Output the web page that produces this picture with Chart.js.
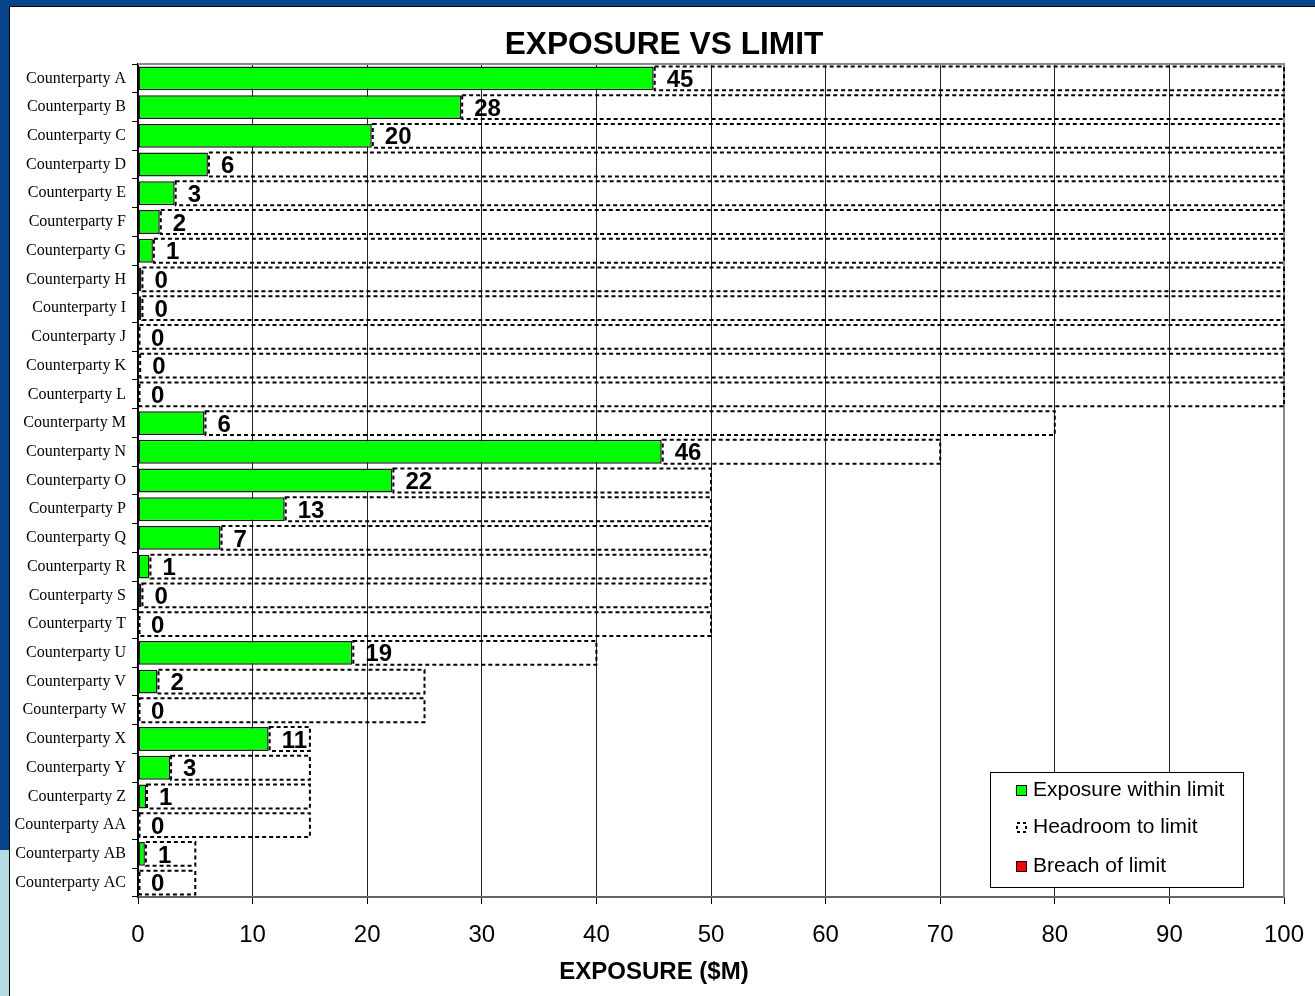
<!DOCTYPE html>
<html>
<head>
<meta charset="utf-8">
<script src="https://cdn.jsdelivr.net/npm/chart.js@4/dist/chart.umd.min.js"></script>
<style>
  html, body { margin: 0; padding: 0; width: 1315px; height: 996px; overflow: hidden; background: #07458a; }
  #lower { position: absolute; left: 0; top: 850px; width: 9px; height: 146px; background: #b4dbe2; }
  #panel { position: absolute; left: 9px; top: 6px; width: 1306px; height: 990px; background: #fff;
           border-left: 1px solid #000; border-top: 1px solid #000; box-sizing: border-box; }
  #wrap { position: absolute; left: 0; top: 0; width: 1305px; height: 989px; }
</style>
</head>
<body>
<div id="lower"></div>
<div id="panel"><div id="wrap"><canvas id="chart"></canvas></div></div>
<script>
const counterparties = ['A','B','C','D','E','F','G','H','I','J','K','L','M','N','O','P','Q','R','S','T',
                        'U','V','W','X','Y','Z','AA','AB','AC'].map(s => 'Counterparty ' + s);
const exposure = [45, 28.2, 20.4, 6.1, 3.2, 1.9, 1.3, 0.3, 0.3, 0, 0.1, 0, 5.8, 45.7, 22.2, 12.8, 7.2, 1.0, 0.3, 0,
                  18.7, 1.7, 0, 11.4, 2.8, 0.7, 0, 0.6, 0];
const limits = [100, 100, 100, 100, 100, 100, 100, 100, 100, 100, 100, 100, 80, 70, 50, 50, 50, 50, 50, 50,
                40, 25, 25, 15, 15, 15, 15, 5, 5];
const breach = [0, 0, 0, 0, 0, 0, 0, 0, 0, 0, 0, 0, 0, 0, 0, 0, 0, 0, 0, 0, 0, 0, 0, 0, 0, 0, 0, 0, 0];
const xTicks = [0, 10, 20, 30, 40, 50, 60, 70, 80, 90, 100];

const SANS = "'Liberation Sans', Arial, sans-serif";
const SERIF = "'Liberation Serif', 'Times New Roman', serif";

// dashed headroom boxes, value labels, legend and titles
const extras = {
  id: 'extras',
  beforeDatasetsDraw(chart) {
    const { ctx, chartArea: a } = chart;
    ctx.save();
    ctx.strokeStyle = '#8a8a8a';
    ctx.lineWidth = 2;
    ctx.beginPath();
    ctx.moveTo(a.left, a.top);
    ctx.lineTo(a.right, a.top);
    ctx.lineTo(a.right, a.bottom);
    ctx.stroke();
    ctx.restore();
  },
  afterDatasetsDraw(chart) {
    const { ctx } = chart;
    ctx.save();
    ctx.strokeStyle = '#000';
    ctx.lineWidth = 2;
    ctx.setLineDash([4, 3]);
    chart.getDatasetMeta(1).data.forEach(el => {
      const { x, base, y, height } = el.getProps(['x', 'base', 'y', 'height'], true);
      const left = Math.min(x, base);
      ctx.strokeRect(left + 1, y - height / 2, Math.abs(x - base) - 1, height);
    });
    ctx.setLineDash([]);

    ctx.fillStyle = '#000';
    ctx.font = 'bold 24px ' + SANS;
    ctx.textAlign = 'left';
    ctx.textBaseline = 'middle';
    chart.getDatasetMeta(0).data.forEach((el, i) => {
      const { x, y } = el.getProps(['x', 'y'], true);
      ctx.fillText(String(Math.round(exposure[i])), x + 13, y + 2);
    });
    ctx.restore();
  },
  afterDraw(chart) {
    const { ctx, chartArea: a } = chart;
    ctx.save();
    ctx.fillStyle = '#000';
    ctx.textAlign = 'center';
    ctx.textBaseline = 'middle';
    ctx.font = 'bold 31.7px ' + SANS;
    ctx.fillText('EXPOSURE VS LIMIT', 654, 38);
    ctx.font = 'bold 24px ' + SANS;
    ctx.fillText('EXPOSURE ($M)', 644, 965);

    // legend box
    const w = 253, h = 115;
    const bx = a.right - 41 - w, by = a.bottom - 10 - h;
    ctx.fillStyle = '#fff';
    ctx.fillRect(bx, by, w, h);
    ctx.strokeStyle = '#000';
    ctx.lineWidth = 1;
    ctx.strokeRect(bx + 0.5, by + 0.5, w, h);
    const rows = [18, 55, 94];
    ctx.font = '21px ' + SANS;
    ctx.textAlign = 'left';
    chart.data.datasets.forEach((ds, i) => {
      const cy = by + rows[i];
      const mx = bx + 26, my = cy - 5;
      if (i === 1) {
        ctx.setLineDash([3, 3]);
        ctx.lineWidth = 2;
        ctx.strokeStyle = '#000';
        ctx.strokeRect(mx + 1, my + 1, 9, 9);
        ctx.setLineDash([]);
      } else {
        ctx.fillStyle = ds.backgroundColor;
        ctx.fillRect(mx, my, 11, 11);
        ctx.lineWidth = 1;
        ctx.strokeStyle = '#000';
        ctx.strokeRect(mx + 0.5, my + 0.5, 10, 10);
      }
      ctx.fillStyle = '#000';
      ctx.fillText(ds.label, bx + 43, cy);
    });
    ctx.restore();
  }
};

new Chart(document.getElementById('chart'), {
  type: 'bar',
  data: {
    labels: counterparties,
    datasets: [
      {
        label: 'Exposure within limit',
        data: exposure,
        backgroundColor: '#00ff00',
        borderColor: '#1a1a1a',
        borderWidth: 1.5,
        borderSkipped: false
      },
      {
        label: 'Headroom to limit',
        data: exposure.map((e, i) => [e, limits[i]]),
        backgroundColor: 'rgba(0,0,0,0)',
        borderWidth: 0
      },
      {
        label: 'Breach of limit',
        data: limits.map((l, i) => [l, l + breach[i]]),
        backgroundColor: '#ff0000',
        borderWidth: 0
      }
    ]
  },
  options: {
    indexAxis: 'y',
    responsive: true,
    maintainAspectRatio: false,
    animation: false,
    datasets: { bar: { grouped: false, categoryPercentage: 1, barPercentage: 0.83 } },
    layout: { padding: { left: 0, right: 31, top: 57, bottom: 0 } },
    plugins: {
      legend: { display: false },
      tooltip: { enabled: false },
      title: { display: false }
    },
    scales: {
      x: {
        type: 'linear',
        min: 0,
        max: 100,
        afterBuildTicks: s => { s.ticks = xTicks.map(v => ({ value: v })); },
        afterFit: s => { s.height = 99; s.paddingLeft = 0; s.paddingRight = 0; },
        ticks: { color: '#000', font: { family: SANS, size: 24 }, padding: 17, maxRotation: 0 },
        grid: { color: '#222', lineWidth: 1, tickLength: 7, tickColor: '#000' },
        border: { color: '#666', width: 2 }
      },
      y: {
        afterFit: s => { s.width = 128; s.paddingTop = 0; s.paddingBottom = 0; },
        ticks: { color: '#000', font: { family: SERIF, size: 16 }, padding: 6, autoSkip: false },
        grid: { drawOnChartArea: false, offset: true, tickLength: 6, color: '#000' },
        border: { color: '#000', width: 1.5 }
      }
    }
  },
  plugins: [extras]
});
</script>
</body>
</html>
